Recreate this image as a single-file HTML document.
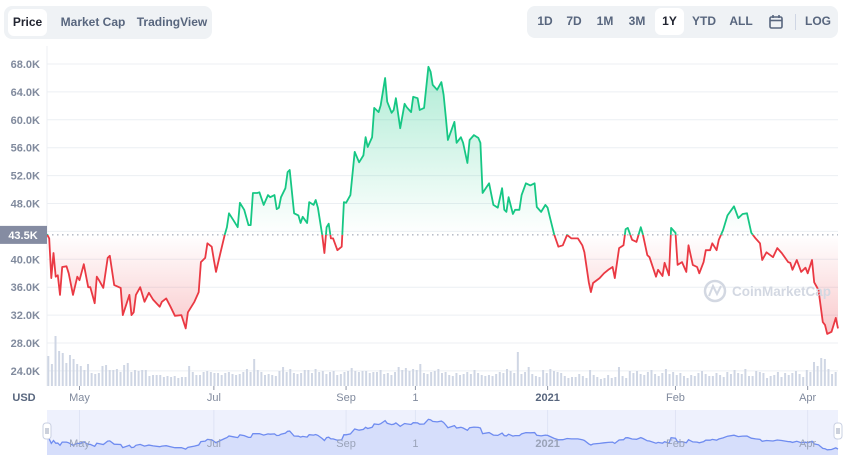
<!DOCTYPE html>
<html><head><meta charset="utf-8">
<style>
body{margin:0;width:844px;height:462px;background:#fff;font-family:"Liberation Sans",sans-serif;overflow:hidden;position:relative}
.grp{position:absolute;background:#eff2f5;border-radius:8px}
.btn{position:absolute;font-size:12px;font-weight:bold;color:#58667e;top:0;height:27px;line-height:27px;text-align:center;border-radius:6px}
.btn.on{background:#fff;color:#222531}
svg{position:absolute;left:0;top:0}
</style></head><body>
<div class="grp" style="left:4px;top:6px;width:208px;height:33px">
 <div class="btn on" style="left:4px;top:3px;width:39px">Price</div>
 <div class="btn" style="left:49px;top:3px;width:80px">Market Cap</div>
 <div class="btn" style="left:129px;top:3px;width:78px">TradingView</div>
</div>
<div class="grp" style="left:527px;top:6px;width:311px;height:32px">
 <div class="btn" style="left:8px;top:2px;width:20px">1D</div>
 <div class="btn" style="left:37px;top:2px;width:20px">7D</div>
 <div class="btn" style="left:67px;top:2px;width:22px">1M</div>
 <div class="btn" style="left:99px;top:2px;width:22px">3M</div>
 <div class="btn on" style="left:128px;top:2px;width:29px">1Y</div>
 <div class="btn" style="left:163px;top:2px;width:28px">YTD</div>
 <div class="btn" style="left:199px;top:2px;width:30px">ALL</div>
 <div class="btn" style="left:238px;top:2px;width:22px">
  <svg width="16" height="16" style="left:3px;top:6px"><rect x="2" y="3" width="12" height="11" rx="1.5" fill="none" stroke="#58667e" stroke-width="1.6"/><line x1="2" y1="6.5" x2="14" y2="6.5" stroke="#58667e" stroke-width="1.6"/><line x1="5" y1="1" x2="5" y2="4" stroke="#58667e" stroke-width="1.6"/><line x1="11" y1="1" x2="11" y2="4" stroke="#58667e" stroke-width="1.6"/></svg></div>
 <div style="position:absolute;left:268px;top:8px;width:1px;height:16px;background:#cfd6e4"></div>
 <div class="btn" style="left:277px;top:2px;width:28px">LOG</div>
</div>
<svg id="chart" width="844" height="462" style="top:0;left:0"></svg>
<script>
const days=[0,1,2,3,4,5,6,7,9,10,12,14,15,17,19,20,22,23,24,26,28,29,31,34,35,38,39,40,41,43,45,47,49,52,53,55,57,59,62,64,65,68,70,71,73,74,76,77,78,80,82,83,84,86,88,89,91,93,94,95,97,98,100,102,103,105,106,107,108,110,111,112,114,116,117,118,120,121,123,124,125,127,128,129,130,131,132,134,136,137,138,140,142,144,146,147,148,150,151,153,154,156,157,159,160,161,163,165,166,168,169,171,172,174,176,177,178,180,182,183,184,185,188,189,191,192,194,195,197,199,200,201,204,206,208,210,211,212,213,215,216,218,219,221,223,225,226,228,230,231,232,234,236,238,240,242,245,247,248,250,251,252,255,257,259,261,262,264,266,267,268,270,272,274,275,277,278,281,282,284,285,287,288,290,291,293,295,296,298,300,301,303,304,306,307,309,310,312,314,317,319,321,323,325,327,329,330,332,335,337,339,342,343,344,346,348,350,351,353,354,356,358,359,360,362,364,365];
const prices=[43.6,43.0,37.3,40.9,37.5,37.7,34.9,38.9,39.0,38.0,34.9,37.5,37.0,39.3,36.0,36.0,33.7,37.5,37.0,35.9,40.2,40.5,36.3,35.9,32.0,34.9,32.0,32.4,34.9,36.0,33.9,35.2,34.2,33.2,33.9,34.4,33.2,31.9,32.0,30.1,32.4,33.9,35.3,39.6,40.2,42.3,41.8,39.9,38.2,40.9,43.5,44.6,46.6,45.6,44.6,48.1,47.1,44.9,44.9,49.5,49.5,49.6,47.8,49.2,48.9,49.2,47.2,47.4,48.9,50.2,52.5,52.8,46.6,46.3,45.2,46.1,45.2,48.2,47.8,48.5,47.4,43.5,40.9,44.6,45.1,43.0,43.0,41.3,41.8,48.2,48.1,49.2,55.4,53.9,54.9,57.5,56.1,57.5,61.7,61.1,62.1,66.0,62.6,61.0,61.4,63.1,58.8,62.3,61.8,61.1,63.3,63.1,61.4,61.7,67.6,66.9,65.0,64.3,65.4,63.6,60.4,57.1,59.7,56.7,57.5,56.7,53.8,57.1,57.8,57.4,56.7,49.5,50.9,47.8,47.4,50.2,47.1,46.8,48.9,46.5,47.1,47.1,49.2,50.9,50.6,50.9,47.5,46.8,47.8,47.4,46.1,43.6,41.8,42.0,43.5,43.0,43.0,42.0,41.0,36.7,35.3,36.6,37.3,38.0,38.5,38.9,37.3,41.6,42.0,44.3,44.5,42.8,42.5,44.6,43.5,40.6,40.3,37.5,38.5,37.6,39.5,37.7,44.5,43.8,39.2,39.6,38.2,42.0,39.2,38.9,38.0,39.6,41.3,41.3,42.3,41.3,42.8,44.2,46.3,47.6,45.9,46.5,46.6,43.8,43.0,42.3,39.9,41.0,40.3,41.6,40.9,39.6,39.5,38.5,39.9,38.2,38.8,38.0,39.9,36.7,35.6,31.0,30.6,29.3,29.6,31.6,30.1];
const volumes=[30,22,50,35,33,23,31,27,22,20,16,22,13,12,13,20,21,16,16,17,14,21,23,14,16,15,16,16,10,11,11,11,9,10,9,10,8,9,9,20,14,11,11,14,15,14,13,13,11,13,14,12,11,12,14,17,14,27,16,14,11,12,11,10,15,19,14,17,13,12,13,16,16,13,17,14,15,12,14,15,11,12,14,15,18,15,14,15,15,13,14,14,16,12,13,11,14,19,16,18,15,17,16,22,13,12,14,15,17,13,14,11,10,13,11,12,14,12,16,13,11,10,11,10,12,14,13,17,15,13,34,12,14,19,12,10,9,16,13,17,15,14,13,10,8,9,9,12,10,8,16,11,9,7,8,11,8,9,19,10,8,15,13,15,12,11,14,16,12,10,13,17,12,14,11,13,10,8,11,10,13,15,12,10,10,13,11,9,14,12,16,13,12,17,10,10,15,14,13,8,10,11,14,9,13,11,13,15,12,9,16,14,24,20,28,27,17,12,14];
const yTicks=[24,28,32,36,40,44,48,52,56,60,64,68];
const xLabels=["May","Jul","Sep","1","2021","Feb","Apr"];
const xLabelDays=[15,77,138,170,231,290,351];
const baseline=43.5;

const NS="http://www.w3.org/2000/svg";
const svg=document.getElementById('chart');
const X0=47,X1=838;
const xs=d=>X0+(d/365)*(X1-X0);
const ys=v=>64+(68-v)/4*27.9;
const ny=v=>450-(v-29)/(68-29)*31;
function mk(t,a,p){const e=document.createElementNS(NS,t);for(const k in a)e.setAttribute(k,a[k]);(p||svg).appendChild(e);return e;}
const defs=mk('defs',{});
defs.innerHTML='<linearGradient id="gg" x1="0" y1="64" x2="0" y2="235" gradientUnits="userSpaceOnUse"><stop offset="0" stop-color="#16c784" stop-opacity="0.35"/><stop offset="1" stop-color="#16c784" stop-opacity="0"/></linearGradient><linearGradient id="rg" x1="0" y1="235" x2="0" y2="335" gradientUnits="userSpaceOnUse"><stop offset="0" stop-color="#ea3943" stop-opacity="0"/><stop offset="1" stop-color="#ea3943" stop-opacity="0.28"/></linearGradient><clipPath id="up"><rect x="0" y="0" width="844" height="'+ys(baseline)+'"/></clipPath><clipPath id="dn"><rect x="0" y="'+ys(baseline)+'" width="844" height="400"/></clipPath>';
yTicks.forEach(v=>{
 const l=mk('line',{x1:X0,x2:X1,y1:ys(v),y2:ys(v),stroke:'#eceff3','stroke-width':1});
 
 const t=mk('text',{x:40,y:ys(v)+4,'text-anchor':'end','font-size':11,'font-weight':'bold',fill:'#808a9d'});
 
 t.textContent=v.toFixed(1)+'K';
});
mk('line',{x1:X0,x2:X0,y1:46,y2:386,stroke:'#eceff3'});
const bw=(X1-X0)/volumes.length;
volumes.forEach((v,i)=>{
 const r=mk('rect',{x:X0+i*bw+0.3,y:386-v,width:Math.max(1,bw*0.55),height:v,fill:'#cfd6e4'});
 
});
let pts=days.map((d,i)=>xs(d).toFixed(1)+','+ys(prices[i]).toFixed(1));
const yb=ys(baseline);
const area='M'+xs(days[0])+','+yb+' L'+pts.join(' L')+' L'+xs(days[days.length-1])+','+yb+' Z';
let a1=mk('path',{d:area,fill:'url(#gg)','clip-path':'url(#up)'});
let a2=mk('path',{d:area,fill:'url(#rg)','clip-path':'url(#dn)'});
mk('line',{x1:X0,x2:X1,y1:yb,y2:yb,stroke:'#8f96a6','stroke-dasharray':'1.5,3.5','stroke-width':1});
const lp='M'+pts.join(' L');
let l1=mk('path',{d:lp,fill:'none',stroke:'#16c784','stroke-width':1.8,'stroke-linejoin':'round','clip-path':'url(#up)'});
let l2=mk('path',{d:lp,fill:'none',stroke:'#ea3943','stroke-width':1.8,'stroke-linejoin':'round','clip-path':'url(#dn)'});
let bl=mk('rect',{x:0,y:yb-9,width:47,height:18,fill:'#858ca2'});
let bt=mk('text',{x:23,y:yb+4,'text-anchor':'middle','font-size':11,'font-weight':'bold',fill:'#fff'});bt.textContent=baseline.toFixed(1)+'K';

const wm=mk('g',{});
mk('circle',{cx:715,cy:291,r:10,fill:'none',stroke:'#d3d8e2','stroke-width':2.5},wm);
mk('path',{d:'M709,296 L713,286 L717,294 L721,286',fill:'none',stroke:'#d3d8e2','stroke-width':2},wm);
const wt=mk('text',{x:732,y:296,'font-size':13.5,'font-weight':'bold',fill:'#d3d8e2'},wm);wt.textContent='CoinMarketCap';
xLabels.forEach((s,i)=>{
 const x=xs(xLabelDays[i]);
 mk('line',{x1:x,x2:x,y1:386,y2:390,stroke:'#8f96a6'});
 const t=mk('text',{x:x,y:401,'text-anchor':'middle','font-size':11,'font-weight':s==='2021'?'bold':'normal',fill:s==='2021'?'#58667e':'#808a9d'});
 t.textContent=s;
});
const ut=mk('text',{x:24,y:401,'text-anchor':'middle','font-size':11,'font-weight':'bold',fill:'#58667e'});ut.textContent='USD';

const nav=mk('g',{});
mk('rect',{x:X0,y:410,width:X1-X0,height:45,fill:'#eef1fd'},nav);
xLabelDays.forEach(d=>mk('line',{x1:xs(d),x2:xs(d),y1:410,y2:455,stroke:'#dfe4f5'},nav));
const np=days.map((d,i)=>xs(d).toFixed(1)+','+ny(prices[i]).toFixed(1));
mk('path',{d:'M'+X0+',455 L'+np.join(' L')+' L'+X1+',455 Z',fill:'#d6defb'},nav);
mk('path',{d:'M'+np.join(' L'),fill:'none',stroke:'#6f8cf0','stroke-width':1.3},nav);
xLabels.forEach((s,i)=>{const t=mk('text',{x:xs(xLabelDays[i]),y:447,'text-anchor':'middle','font-size':11,'font-weight':s==='2021'?'bold':'normal',fill:'#9aa3b8'},nav);t.textContent=s;});
[X0,X1].forEach(x=>{const h=mk('rect',{x:x-4,y:423,width:8,height:16,rx:3,fill:'#fff',stroke:'#c9d0e2'},nav);
 mk('line',{x1:x-1,x2:x-1,y1:428,y2:434,stroke:'#9aa3b8'},nav);mk('line',{x1:x+1,x2:x+1,y1:428,y2:434,stroke:'#9aa3b8'},nav);});
</script>
</body></html>
